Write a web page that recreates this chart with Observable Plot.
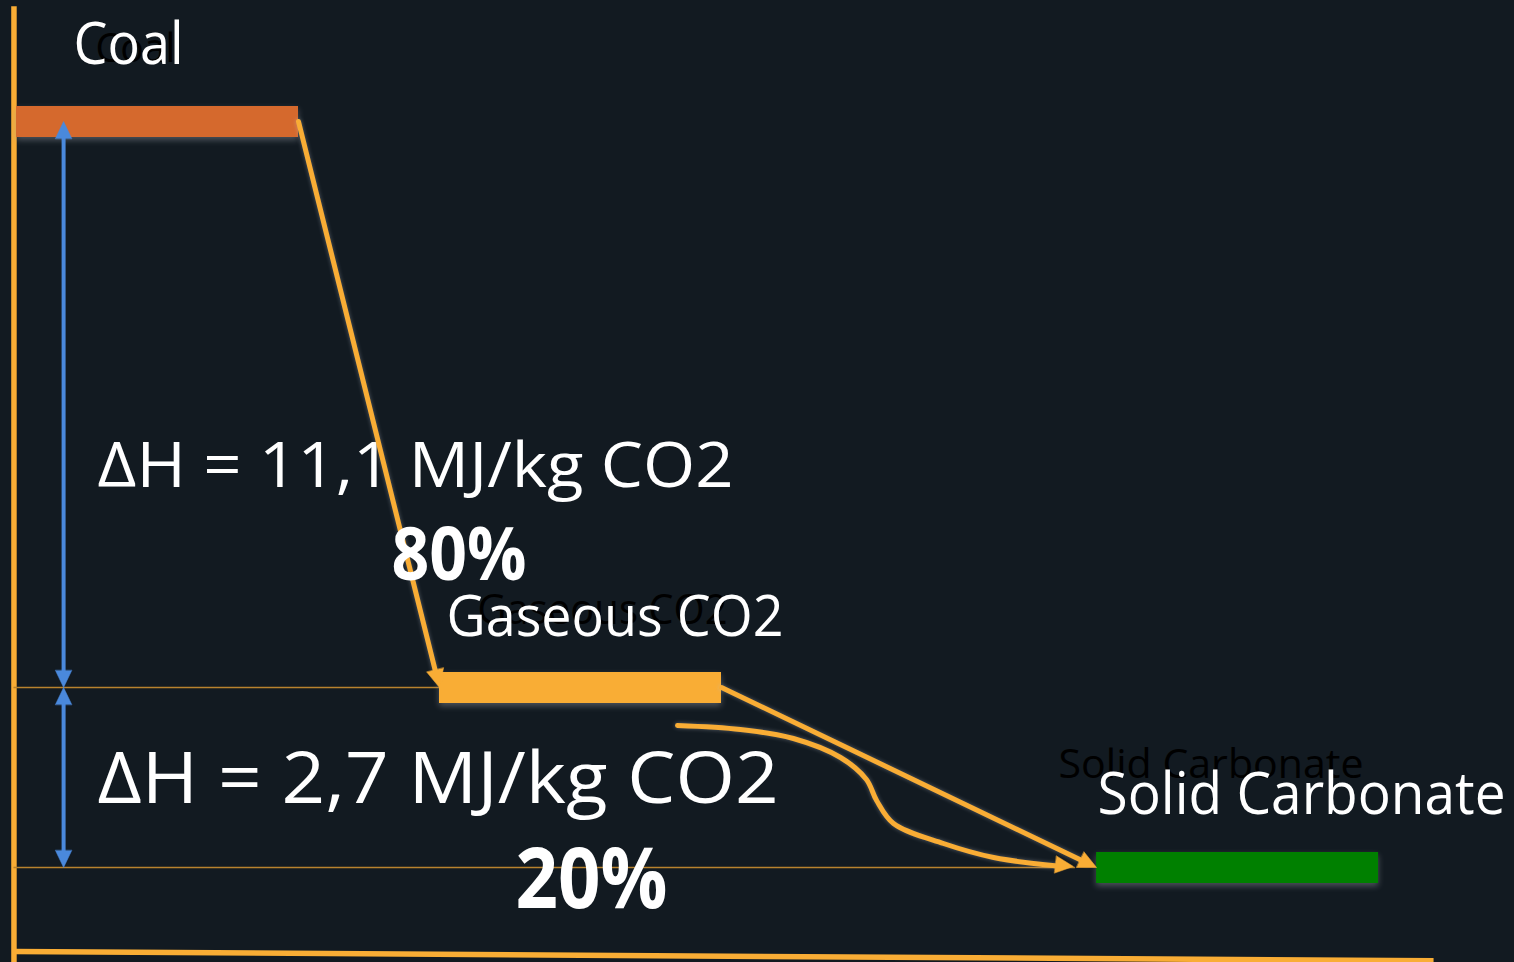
<!DOCTYPE html>
<html>
<head>
<meta charset="utf-8">
<script src="https://cdn.jsdelivr.net/npm/d3@7"></script>
<script src="https://cdn.jsdelivr.net/npm/@observablehq/plot@0.6"></script>
<style>
  html, body { margin: 0; padding: 0; background: #121a21; overflow: hidden; }
  #chart svg { display: block; }
</style>
</head>
<body>
<div id="chart"></div>
<script>
// ---------- data ----------
const levels = ["Coal", "Gaseous CO2", "Solid Carbonate"];
const energy = [13.8, 2.7, 0];            // MJ/kg CO2, relative to the solid carbonate
const progress = [0, 1.5, 3.83];          // reaction coordinate where each level starts
const levelSpan = 1;                      // reaction-coordinate length of each level
const deltaLabels = ["ΔH = 11,1 MJ/kg CO2", "ΔH = 2,7 MJ/kg CO2"];
const shareLabels = ["80%", "20%"];
// direct carbonation route (curved arrow), in (reaction coordinate, energy)
const directX = [2.344, 2.567, 2.755, 2.922, 3.014, 3.050, 3.110, 3.287, 3.465, 3.700];
const directY = [2.13, 2.07, 1.935, 1.65, 1.32, 1.005, 0.66, 0.36, 0.15, 0.02];
const directTip = [3.748, 0.015];

// ---------- layout / style ----------
const levelColors = ["#d5692d", "#f9ad35", "#008000"];
const orange = "#f9ad35", blue = "#4a89dc", guideColor = "#b8822e";
const font = "Open Sans";
// the diagram is not drawn to scale: each energy gap gets its own drawing height
const energyToHeight = d3.scaleLinear().domain([energy[2], energy[1], energy[0]]).range([0, 180, 746]);
const X = {domain: [0, 5], range: [16, 1426]};
const Y = {domain: [-95, 867], range: [962, 0]};
const frame = {x: -0.009, top: 16.05, bottom: -1.43, base0: -1.26, baseEndX: 5.025, baseEnd: -1.40};
const bracketX = 0.167;
const guideEnd = [1.59, 3.755];

const sx = Plot.scale({x: X});
const syRaw = Plot.scale({y: Y});
const sy = {apply: v => syRaw.apply(energyToHeight(v))};
function head(x1, y1, x2, y2) {
  const dx = sx.apply(x2) - sx.apply(x1), dy = sy.apply(y2) - sy.apply(y1);
  return {x: x2, y: y2, a: Math.atan2(dx, -dy) * 180 / Math.PI};
}
// filled triangular arrowhead, tip at the anchor
const arrowHead = {
  draw(context, l) {
    const w = l * 0.48;
    context.moveTo(-w, 0);
    context.lineTo(0, -l);
    context.lineTo(w, 0);
    context.closePath();
  }
};

const bars = levels.map((name, i) => ({name, x1: progress[i], x2: progress[i] + levelSpan, y: energy[i], color: levelColors[i]}));
const steps = [0, 1].map(i => ({x1: progress[i] + levelSpan, y1: energy[i], x2: progress[i + 1], y2: energy[i + 1]}));
const brackets = [0, 1].map(i => ({x: bracketX, y1: energy[i], y2: energy[i + 1]}));
const guides = [1, 2].map((k, j) => ({y: energy[k], x1: frame.x, x2: guideEnd[j]}));
const direct = directX.map((x, i) => ({x, y: directY[i]}));

const orangeHeads = [
  ...steps.map(s => head(s.x1, s.y1, s.x2, s.y2)),
  head(directX[directX.length - 2], directY[directY.length - 2], directTip[0], directTip[1])
];
const blueHeads = brackets.flatMap(b => [head(b.x, b.y2, b.x, b.y1), head(b.x, b.y1, b.x, b.y2)]);

const textWidths = [];
function label(text, ax, ay, dx, dy, size, weight, fill, width) {
  textWidths.push(width);
  return Plot.text([{text, x: ax, y: ay}], {
    x: "x", y: "y", text: "text", dx, dy, fontSize: size, fontWeight: weight,
    fontFamily: font, fill, textAnchor: "start", lineAnchor: "bottom"
  });
}

const glow = "drop-shadow(0 0 2px rgba(190,195,205,0.4))";
const barShadow = "drop-shadow(0 3px 3px rgba(150,155,165,0.45))";

const marks = [
  // frame
  Plot.ruleX([frame], {x: "x", y1: "top", y2: "bottom", stroke: orange, strokeWidth: 5.5}),
  Plot.link([frame], {x1: "x", y1: "base0", x2: "baseEndX", y2: "baseEnd", stroke: orange, strokeWidth: 5.5}),
  // thin guide lines
  Plot.ruleY(guides, {y: "y", x1: "x1", x2: "x2", stroke: guideColor, strokeWidth: 1.5}),
  // ghost level labels (black)
  label(levels[0], progress[0], energy[0], 79, -60, 41, "normal", "#000", 80),
  label(levels[1], progress[1], energy[1], 38, -64, 42, "normal", "#000", 250),
  label(levels[2], progress[2], energy[2], -38, -90, 40, "normal", "#000", 305),
  // level labels
  label(levels[0], progress[0], energy[0], 57, -58, 58, "normal", "#fff", 110),
  label(levels[1], progress[1], energy[1], 7, -52, 56, "normal", "#fff", 337),
  label(levels[2], progress[2], energy[2], 1, -54, 58, "normal", "#fff", 408),
  // delta H labels
  label(deltaLabels[0], bracketX, energy[1], 34, -201, 63, "normal", "#fff", 636),
  label(deltaLabels[1], bracketX, energy[2], 34, -65, 72, "normal", "#fff", 681),
  // level bars
  Plot.ruleY(bars, {y: "y", x1: "x1", x2: "x2", stroke: "color", strokeWidth: 31, imageFilter: barShadow}),
  // blue double arrows
  Plot.arrow(brackets, {x: "x", y1: "y1", y2: "y2", stroke: blue, strokeWidth: 4, headLength: 0, insetStart: 10, insetEnd: 10}),
  Plot.vector(blueHeads, {x: "x", y: "y", rotate: "a", length: 17, shape: arrowHead, anchor: "end", fill: blue, stroke: blue, strokeWidth: 0.5}),
  // orange transitions
  Plot.arrow(steps, {x1: "x1", y1: "y1", x2: "x2", y2: "y2", stroke: orange, strokeWidth: 5, headLength: 0, insetEnd: 10, imageFilter: glow}),
  Plot.line(direct, {x: "x", y: "y", curve: "catmull-rom", stroke: orange, strokeWidth: 5, imageFilter: glow}),
  Plot.vector(orangeHeads, {x: "x", y: "y", rotate: "a", length: 18, shape: arrowHead, anchor: "end", fill: orange, stroke: orange, strokeWidth: 0.5}),
  // share labels
  label(shareLabels[0], bracketX, energy[1], 328, -108, 74, "bold", "#fff", 135),
  label(shareLabels[1], bracketX, energy[2], 452, 40, 84, "bold", "#fff", 152)
];

const plot = Plot.plot({
  width: 1514,
  height: 962,
  margin: 0,
  x: {...X, axis: null},
  y: {...Y, transform: energyToHeight, axis: null},
  style: {background: "#121a21", overflow: "visible"},
  marks
});

plot.querySelectorAll('g[aria-label="text"] text').forEach((t, i) => {
  if (textWidths[i] != null) {
    t.setAttribute("textLength", textWidths[i]);
    t.setAttribute("lengthAdjust", "spacingAndGlyphs");
  }
});

document.getElementById("chart").appendChild(plot);
</script>
</body>
</html>
